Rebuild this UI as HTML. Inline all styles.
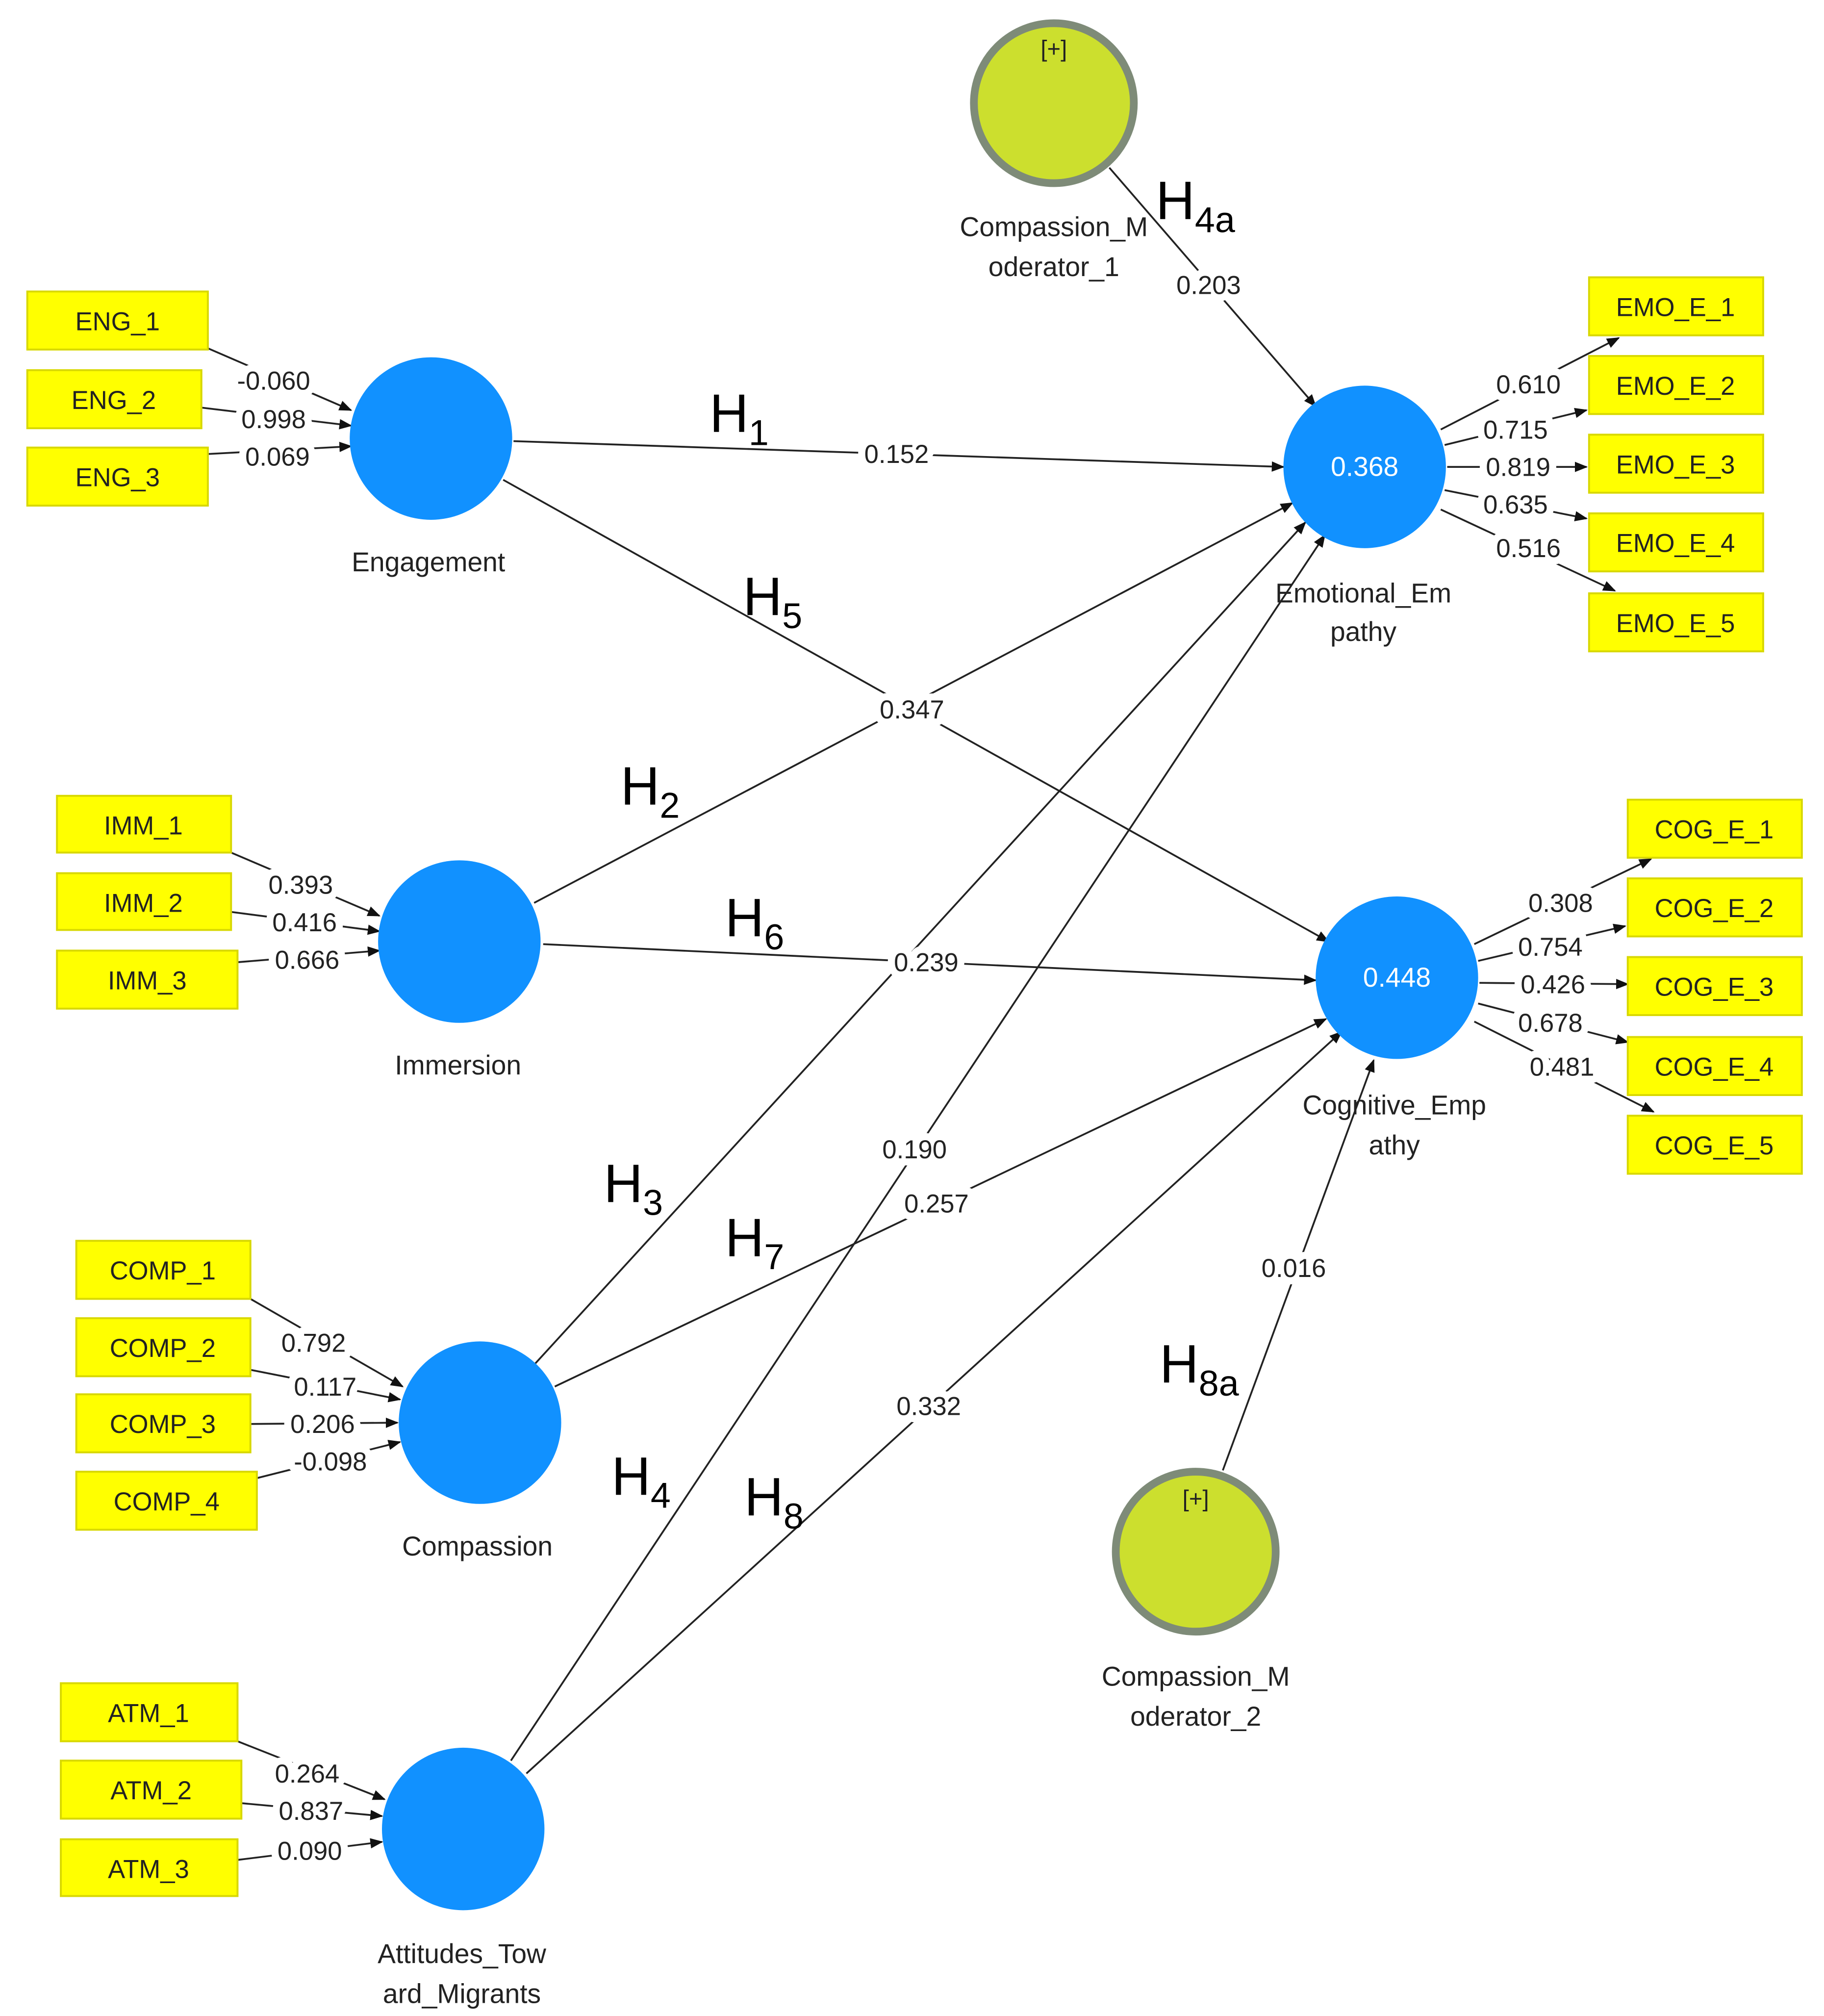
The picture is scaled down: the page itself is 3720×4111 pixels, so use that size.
<!DOCTYPE html>
<html><head><meta charset="utf-8"><style>
html,body{margin:0;padding:0;background:#fff;}
svg{display:block;}
text{font-family:"Liberation Sans",sans-serif;}
.box{fill:#FFFF00;stroke:#D8D800;stroke-width:1.5;}
.bt{font-size:20px;fill:#222;text-anchor:middle;}
.ln{stroke:#222;stroke-width:1.4;fill:none;marker-end:url(#a);}
.lb{font-size:20px;fill:#222;text-anchor:middle;paint-order:stroke;stroke:#fff;stroke-width:11px;stroke-linejoin:round;}
.nm{font-size:21px;fill:#222;text-anchor:middle;}
.h{font-size:42px;fill:#000;}
.hs{font-size:28px;}
.bl{fill:#1191FF;}
.gr{fill:#CCDF2E;stroke:#7E8B78;stroke-width:6;}
.val{font-size:21px;fill:#fff;text-anchor:middle;}
</style></head><body>
<svg width="3720" height="4111" viewBox="0 0 1414 1563" xmlns="http://www.w3.org/2000/svg">
<defs><marker id="a" markerWidth="10" markerHeight="10" refX="9" refY="5" orient="auto" markerUnits="userSpaceOnUse"><path d="M0,1 L10,5 L0,9 Z" fill="#111"/></marker></defs>
<rect width="1414" height="1563" fill="#fff"/>

<line class="ln" x1="398" y1="342" x2="995" y2="362"/>
<line class="ln" x1="390" y1="372" x2="1030" y2="730"/>
<line class="ln" x1="414" y1="700" x2="1002" y2="390"/>
<line class="ln" x1="421" y1="732" x2="1020" y2="760"/>
<line class="ln" x1="415" y1="1057" x2="1012" y2="405"/>
<line class="ln" x1="430" y1="1075" x2="1028" y2="790"/>
<line class="ln" x1="396" y1="1365" x2="1027" y2="415"/>
<line class="ln" x1="408" y1="1375" x2="1040" y2="800"/>
<line class="ln" x1="860" y1="130" x2="1020" y2="315"/>
<line class="ln" x1="948" y1="1140" x2="1065" y2="822"/>

<line class="ln" x1="161" y1="270" x2="272" y2="318"/>
<line class="ln" x1="156" y1="316" x2="272" y2="330"/>
<line class="ln" x1="161" y1="352" x2="272" y2="346"/>
<line class="ln" x1="179" y1="661" x2="294" y2="710"/>
<line class="ln" x1="179" y1="707" x2="294" y2="722"/>
<line class="ln" x1="184" y1="746" x2="294" y2="737"/>
<line class="ln" x1="194" y1="1007" x2="312" y2="1075"/>
<line class="ln" x1="194" y1="1062" x2="310" y2="1085"/>
<line class="ln" x1="194" y1="1104" x2="308" y2="1103"/>
<line class="ln" x1="199" y1="1146" x2="310" y2="1118"/>
<line class="ln" x1="184" y1="1350" x2="298" y2="1395"/>
<line class="ln" x1="187" y1="1398" x2="296" y2="1408"/>
<line class="ln" x1="184" y1="1442" x2="296" y2="1428"/>
<line class="ln" x1="1117" y1="333" x2="1255" y2="262"/>
<line class="ln" x1="1120" y1="345" x2="1230" y2="318"/>
<line class="ln" x1="1122" y1="362" x2="1230" y2="362"/>
<line class="ln" x1="1120" y1="380" x2="1230" y2="402"/>
<line class="ln" x1="1117" y1="395" x2="1252" y2="458"/>
<line class="ln" x1="1143" y1="732" x2="1280" y2="666"/>
<line class="ln" x1="1146" y1="745" x2="1260" y2="718"/>
<line class="ln" x1="1147" y1="762" x2="1262" y2="763"/>
<line class="ln" x1="1146" y1="778" x2="1262" y2="808"/>
<line class="ln" x1="1143" y1="792" x2="1282" y2="862"/>

<text class="lb" x="695" y="359">0.152</text>
<text class="lb" x="707" y="557">0.347</text>
<text class="lb" x="718" y="753">0.239</text>
<text class="lb" x="726" y="940">0.257</text>
<text class="lb" x="709" y="898">0.190</text>
<text class="lb" x="720" y="1097">0.332</text>
<text class="lb" x="937" y="228">0.203</text>
<text class="lb" x="1003" y="990">0.016</text>

<text class="lb" x="212" y="302">-0.060</text>
<text class="lb" x="212" y="332">0.998</text>
<text class="lb" x="215" y="361">0.069</text>
<text class="lb" x="233" y="693">0.393</text>
<text class="lb" x="236" y="722">0.416</text>
<text class="lb" x="238" y="751">0.666</text>
<text class="lb" x="243" y="1048">0.792</text>
<text class="lb" x="252" y="1082">0.117</text>
<text class="lb" x="250" y="1111">0.206</text>
<text class="lb" x="256" y="1140">-0.098</text>
<text class="lb" x="238" y="1382">0.264</text>
<text class="lb" x="241" y="1411">0.837</text>
<text class="lb" x="240" y="1442">0.090</text>
<text class="lb" x="1185" y="305">0.610</text>
<text class="lb" x="1175" y="340">0.715</text>
<text class="lb" x="1177" y="369">0.819</text>
<text class="lb" x="1175" y="398">0.635</text>
<text class="lb" x="1185" y="432">0.516</text>
<text class="lb" x="1210" y="707">0.308</text>
<text class="lb" x="1202" y="741">0.754</text>
<text class="lb" x="1204" y="770">0.426</text>
<text class="lb" x="1202" y="800">0.678</text>
<text class="lb" x="1211" y="834">0.481</text>

<text class="h" x="550" y="335">H<tspan class="hs" dy="10">1</tspan></text>
<text class="h" x="576" y="477">H<tspan class="hs" dy="10">5</tspan></text>
<text class="h" x="481" y="624">H<tspan class="hs" dy="10">2</tspan></text>
<text class="h" x="562" y="726">H<tspan class="hs" dy="10">6</tspan></text>
<text class="h" x="468" y="932">H<tspan class="hs" dy="10">3</tspan></text>
<text class="h" x="562" y="974">H<tspan class="hs" dy="10">7</tspan></text>
<text class="h" x="474" y="1159">H<tspan class="hs" dy="10">4</tspan></text>
<text class="h" x="577" y="1175">H<tspan class="hs" dy="10">8</tspan></text>
<text class="h" x="896" y="170">H<tspan class="hs" dy="10">4a</tspan></text>
<text class="h" x="899" y="1072">H<tspan class="hs" dy="10">8a</tspan></text>

<g>
<rect class="box" x="21" y="226" width="140" height="45"/><text class="bt" x="91" y="256">ENG_1</text>
<rect class="box" x="21" y="287" width="135" height="45"/><text class="bt" x="88" y="317">ENG_2</text>
<rect class="box" x="21" y="347" width="140" height="45"/><text class="bt" x="91" y="377">ENG_3</text>
<rect class="box" x="44" y="617" width="135" height="44"/><text class="bt" x="111" y="647">IMM_1</text>
<rect class="box" x="44" y="677" width="135" height="44"/><text class="bt" x="111" y="707">IMM_2</text>
<rect class="box" x="44" y="737" width="140" height="45"/><text class="bt" x="114" y="767">IMM_3</text>
<rect class="box" x="59" y="962" width="135" height="45"/><text class="bt" x="126" y="992">COMP_1</text>
<rect class="box" x="59" y="1022" width="135" height="45"/><text class="bt" x="126" y="1052">COMP_2</text>
<rect class="box" x="59" y="1081" width="135" height="45"/><text class="bt" x="126" y="1111">COMP_3</text>
<rect class="box" x="59" y="1141" width="140" height="45"/><text class="bt" x="129" y="1171">COMP_4</text>
<rect class="box" x="47" y="1305" width="137" height="45"/><text class="bt" x="115" y="1335">ATM_1</text>
<rect class="box" x="47" y="1365" width="140" height="45"/><text class="bt" x="117" y="1395">ATM_2</text>
<rect class="box" x="47" y="1426" width="137" height="44"/><text class="bt" x="115" y="1456">ATM_3</text>
<rect class="box" x="1232" y="215" width="135" height="45"/><text class="bt" x="1299" y="245">EMO_E_1</text>
<rect class="box" x="1232" y="276" width="135" height="45"/><text class="bt" x="1299" y="306">EMO_E_2</text>
<rect class="box" x="1232" y="337" width="135" height="45"/><text class="bt" x="1299" y="367">EMO_E_3</text>
<rect class="box" x="1232" y="398" width="135" height="45"/><text class="bt" x="1299" y="428">EMO_E_4</text>
<rect class="box" x="1232" y="460" width="135" height="45"/><text class="bt" x="1299" y="490">EMO_E_5</text>
<rect class="box" x="1262" y="620" width="135" height="45"/><text class="bt" x="1329" y="650">COG_E_1</text>
<rect class="box" x="1262" y="681" width="135" height="45"/><text class="bt" x="1329" y="711">COG_E_2</text>
<rect class="box" x="1262" y="742" width="135" height="45"/><text class="bt" x="1329" y="772">COG_E_3</text>
<rect class="box" x="1262" y="804" width="135" height="45"/><text class="bt" x="1329" y="834">COG_E_4</text>
<rect class="box" x="1262" y="865" width="135" height="45"/><text class="bt" x="1329" y="895">COG_E_5</text>
</g>

<circle class="bl" cx="334" cy="340" r="63"/>
<circle class="bl" cx="356" cy="730" r="63"/>
<circle class="bl" cx="372" cy="1103" r="63"/>
<circle class="bl" cx="359" cy="1418" r="63"/>
<circle class="bl" cx="1058" cy="362" r="63"/><text class="val" x="1058" y="369">0.368</text>
<circle class="bl" cx="1083" cy="758" r="63"/><text class="val" x="1083" y="765">0.448</text>
<circle class="gr" cx="817" cy="80" r="62"/><text class="nm" x="817" y="44" style="font-size:18px">[+]</text>
<circle class="gr" cx="927" cy="1203" r="62"/><text class="nm" x="927" y="1168" style="font-size:18px">[+]</text>

<text class="nm" x="332" y="443">Engagement</text>
<text class="nm" x="355" y="833">Immersion</text>
<text class="nm" x="370" y="1206">Compassion</text>
<text class="nm" x="358" y="1522">Attitudes_Tow</text>
<text class="nm" x="358" y="1553">ard_Migrants</text>
<text class="nm" x="1057" y="467">Emotional_Em</text>
<text class="nm" x="1057" y="497">pathy</text>
<text class="nm" x="1081" y="864">Cognitive_Emp</text>
<text class="nm" x="1081" y="895">athy</text>
<text class="nm" x="817" y="183">Compassion_M</text>
<text class="nm" x="817" y="214">oderator_1</text>
<text class="nm" x="927" y="1307">Compassion_M</text>
<text class="nm" x="927" y="1338">oderator_2</text>
</svg>
</body></html>
